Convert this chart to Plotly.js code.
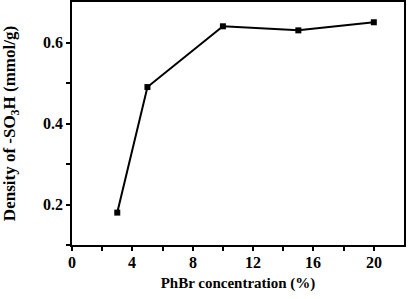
<!DOCTYPE html>
<html>
<head>
<meta charset="utf-8">
<script src="https://cdn.plot.ly/plotly-3.0.1.min.js"></script>
<style>
  html, body { margin: 0; padding: 0; background: #fff; }
  #chart { width: 408px; height: 299px; }
  .modebar-container { display: none !important; }
</style>
</head>
<body>
<div id="chart"></div>
<script>
const concentration = [3, 5, 10, 15, 20];
const density = [0.18, 0.49, 0.64, 0.63, 0.65];
const xTicks = [0, 4, 8, 12, 16, 20];
const xMinorTicks = [2, 6, 10, 14, 18];
const yTicks = [0.2, 0.4, 0.6];
const yMinorTicks = [0.1, 0.3, 0.5];

const family = 'Liberation Serif';
const labelFont = { family: family, size: 16, color: '#000', weight: 'bold' };

const trace = {
  x: concentration,
  y: density,
  mode: 'lines+markers',
  line: { width: 2, color: '#000' },
  marker: { symbol: 'square', size: 6, color: '#000' },
  showlegend: false,
};

// tick labels as annotations tied to the axes (tickfont was not being picked up)
const xLabels = xTicks.map(v => ({
  x: v, xref: 'x', y: 0, yref: 'paper',
  xanchor: 'center', yanchor: 'top', yshift: -7,
  text: String(v), showarrow: false, font: labelFont,
}));
const yLabels = yTicks.map(v => ({
  x: 0, xref: 'paper', y: v, yref: 'y',
  xanchor: 'right', yanchor: 'middle', xshift: -7,
  text: v.toFixed(1), showarrow: false, font: labelFont,
}));

const layout = {
  width: 408,
  height: 299,
  margin: { t: 2, r: 4, b: 54, l: 72 },
  plot_bgcolor: '#fff',
  paper_bgcolor: '#fff',
  font: { family: family, size: 16, color: '#000', weight: 'bold' },
  xaxis: {
    showline: true, linecolor: '#000', linewidth: 1.5, mirror: true,
    showgrid: false, zeroline: false,
    ticks: 'outside', ticklen: 4, tickwidth: 1.5, tickcolor: '#000',
    showticklabels: false,
    range: [0, 22],
    tickvals: xTicks.concat(xMinorTicks),
    title: { text: 'PhBr concentration (%)', font: { family: family, size: 15, weight: 'bold' }, standoff: 28 },
  },
  yaxis: {
    showline: true, linecolor: '#000', linewidth: 1.5, mirror: true,
    showgrid: false, zeroline: false,
    ticks: 'outside', ticklen: 4, tickwidth: 1.5, tickcolor: '#000',
    showticklabels: false,
    range: [0.1, 0.7],
    tickvals: yTicks.concat(yMinorTicks),
    title: { text: 'Density of -SO<sub>3</sub>H (mmol/g)', font: { family: family, size: 17, weight: 'bold' }, standoff: 46 },
  },
  annotations: xLabels.concat(yLabels),
};

Plotly.newPlot('chart', [trace], layout);
</script>
</body>
</html>
